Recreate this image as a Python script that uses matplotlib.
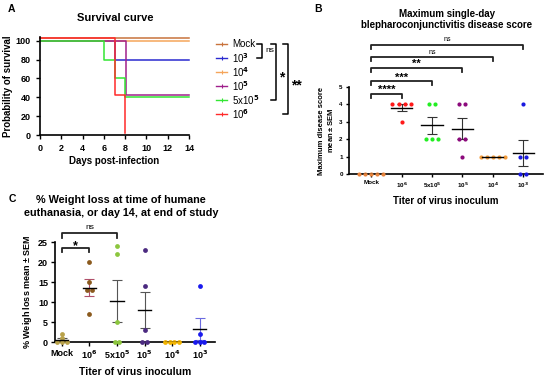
import numpy as np
import matplotlib
matplotlib.use('Agg')
import matplotlib.pyplot as plt

plt.rcParams['font.family'] = ['Liberation Sans', 'DejaVu Sans']
plt.rcParams['font.weight'] = 'bold'
plt.rcParams['axes.labelweight'] = 'bold'
plt.rcParams['axes.linewidth'] = 1.2

# ---- DATA ----
# A: survival curves (day of change, percent surviving)
surv_groups = ['Mock', '10$^3$', '10$^4$', '10$^5$', '5x10$^5$', '10$^6$']
surv_colors = ['#c8733c', '#2a2ad0', '#f5a55a', '#a0208c', '#33e633', '#ff2a2a']
surv_days = [[0, 14], [0, 7, 14], [0, 14], [0, 8.1, 14], [0, 6, 7, 8, 14], [0, 7, 8]]
surv_pct = [[102.5, 102.5], [100, 80, 80], [100, 100], [100, 42.9, 42.9],
            [100, 80, 60, 40, 40], [102.5, 42.9, 2]]

# B: max disease score
titers = ['Mock', '10$^6$', '5x10$^5$', '10$^5$', '10$^4$', '10$^3$']
score_vals = [[0, 0, 0, 0, 0], [4, 4, 4, 4, 3], [4, 4, 2, 2, 2],
              [4, 4, 2, 2, 1], [1, 1, 1, 1, 1], [4, 1, 1, 0, 0]]
score_colors = ['#e8843c', '#ff1a1a', '#22ee22', '#8c0a7c', '#f39c3c', '#1a1ae0']
score_sig = [('****', 1, 4.6), ('***', 2, 5.32), ('**', 3, 6.08),
             ('ns', 4, 6.7), ('ns', 5, 7.43)]

# C: weight loss
wl_vals = [[2, 1, 0, 0, 0], [20, 15, 13, 13, 7], [24, 22, 5, 0, 0],
           [23, 14, 3, 0, 0], [0, 0, 0, 0], [14, 2, 0, 0, 0]]
wl_colors = ['#b9a24a', '#8b5a1e', '#8cc63e', '#4b2a80', '#f2b400', '#1a1aee']
wl_err_colors = ['#555555', '#b0506a', '#555555', '#555555', '#555555', '#6a6ae0']
wl_sig = [('*', 1, 23.5), ('ns', 2, 27.2)]

W, H = 550, 378
fig = plt.figure(figsize=(W / 100, H / 100), dpi=100)


def px_axes(l, t, r, b):
    return fig.add_axes([l / W, 1 - b / H, (r - l) / W, (b - t) / H])


def swarm(vals, d):
    vals = np.asarray(vals, float)
    xs = np.zeros(len(vals))
    for v in np.unique(vals):
        idx = np.where(vals == v)[0]
        xs[idx] = (np.arange(len(idx)) - (len(idx) - 1) / 2) * d
    return xs


def dotplot(ax, vals, colors, d, ms, half, errc, elw):
    for i, v in enumerate(vals):
        v = np.asarray(v, float)
        ax.scatter(i + swarm(v, d), v, s=ms, color=colors[i], zorder=3,
                   clip_on=False, linewidths=0)
        m = v.mean()
        sem = v.std(ddof=1) / np.sqrt(len(v))
        ax.plot([i - half, i + half], [m, m], color='black', lw=1.0, zorder=4)
        if sem > 0:
            ax.errorbar(i, m, yerr=sem, color=errc[i], capsize=3.5,
                        elinewidth=elw, capthick=elw, zorder=2)


def brackets(ax, sig, ytick, ns_off, star_off, fs_ns, fs_star, lw):
    for lab, j, y in sig:
        ax.plot([0, 0, j, j], [y - ytick, y, y, y - ytick], color='#222222',
                lw=lw, clip_on=False)
        if lab == 'ns':
            ax.text(j / 2, y + ns_off, lab, ha='center', va='bottom',
                    fontsize=fs_ns, fontweight='normal', clip_on=False)
        else:
            ax.text(j / 2, y + star_off, lab, ha='center', va='baseline',
                    fontsize=fs_star, fontweight='bold', clip_on=False)


# ---- Panel A ----
axA = px_axes(40, 37, 189, 135)
for d, p, c in zip(surv_days, surv_pct, surv_colors):
    axA.step(d, p, where='post', color=c, lw=1.1, clip_on=False)
axA.set_xlim(0, 14)
axA.set_ylim(0, 104)
axA.set_xticks(range(0, 15, 2))
axA.set_yticks(range(0, 101, 20))
axA.tick_params(labelsize=6.5, length=3, width=1)
axA.spines[['top', 'right']].set_visible(False)
axA.set_ylabel('Probability of survival', fontsize=7, labelpad=2)
axA.set_xlabel('Days post-infection', fontsize=7, labelpad=2)
fig.text(115 / W, 1 - 18 / H, 'Survival curve', ha='center', va='center',
         fontsize=8)
fig.text(8 / W, 1 - 9 / H, 'A', fontsize=7.5, va='center')

# legend and brackets for A
leg_y = [44, 58, 72, 86, 100, 114]
for name, c, y in zip(surv_groups, surv_colors, leg_y):
    fig.add_artist(plt.Line2D([216 / W, 227 / W], [1 - y / H] * 2, color=c,
                              lw=1))
    fig.add_artist(plt.Line2D([221.5 / W], [1 - y / H], color=c,
                              marker='|', ms=2.5, mew=0.8))
    fig.text(232 / W, 1 - y / H, name, fontsize=7, fontweight='normal',
             va='center')
for x0, x1, y0, y1 in [(257, 262, 44, 58), (271, 276, 44, 100),
                       (283, 288, 44, 114)]:
    fig.add_artist(plt.Line2D([x0 / W, x1 / W, x1 / W, x0 / W],
                              [1 - y0 / H, 1 - y0 / H, 1 - y1 / H, 1 - y1 / H],
                              color='black', lw=1.1))
fig.text(265 / W, 1 - 51 / H, 'ns', fontsize=6, fontweight='normal',
         va='center')
fig.text(279 / W, 1 - 81 / H, '*', fontsize=10, va='baseline')
fig.text(291 / W, 1 - 89 / H, '**', fontsize=10, va='baseline')

# ---- Panel B ----
axB = px_axes(349, 87, 543, 174)
dotplot(axB, score_vals, score_colors, 0.2, 9, 0.35, ['#333333'] * 6, 0.8)
axB.set_xlim(-0.73, 5.65)
axB.set_ylim(0, 5)
axB.set_xticks(range(len(titers)))
axB.set_xticklabels(titers)
axB.set_yticks(range(0, 6))
axB.tick_params(labelsize=4.5, length=2.5, width=1, pad=2)
axB.spines[['top', 'right']].set_visible(False)
axB.set_ylabel('Maximum disease score\n$\\mathregular{mean \\pm SEM}$',
               fontsize=5.5, labelpad=3)
axB.set_xlabel('Titer of virus inoculum', fontsize=7, labelpad=5)
brackets(axB, score_sig, 0.23, 0.1, 0.05, 5, 8, 1.3)
fig.text(447 / W, 1 - 14 / H, 'Maximum single-day', ha='center', va='center',
         fontsize=7)
fig.text(447 / W, 1 - 24.5 / H, 'blepharoconjunctivitis disease score',
         ha='center', va='center', fontsize=7)
fig.text(314 / W, 1 - 9 / H, 'B', fontsize=7.5, va='center')

# ---- Panel C ----
axC = px_axes(55, 242, 215, 342)
dotplot(axC, wl_vals, wl_colors, 0.17, 12, 0.24, wl_err_colors, 0.8)
axC.set_xlim(-0.25, 5.56)
axC.set_ylim(0, 25)
axC.set_xticks(range(len(titers)))
axC.set_xticklabels(titers)
axC.set_yticks(range(0, 26, 5))
axC.tick_params(labelsize=6.5, length=3, width=1, pad=2)
axC.spines[['top', 'right']].set_visible(False)
axC.set_ylabel('% Weigh loss mean $\\mathregular{\\pm}$ SEM', fontsize=6.5,
               labelpad=3)
axC.set_xlabel('Titer of virus inoculum', fontsize=7.5, labelpad=4)
brackets(axC, wl_sig, 1.1, 0.6, -0.4, 6, 9, 1.3)
fig.text(121 / W, 1 - 200 / H, '% Weight loss at time of humane',
         ha='center', va='center', fontsize=7.8)
fig.text(121 / W, 1 - 213 / H, 'euthanasia, or day 14, at end of study',
         ha='center', va='center', fontsize=7.8)
fig.text(9 / W, 1 - 199 / H, 'C', fontsize=7.5, va='center')

fig.savefig('out.png', dpi=100)
